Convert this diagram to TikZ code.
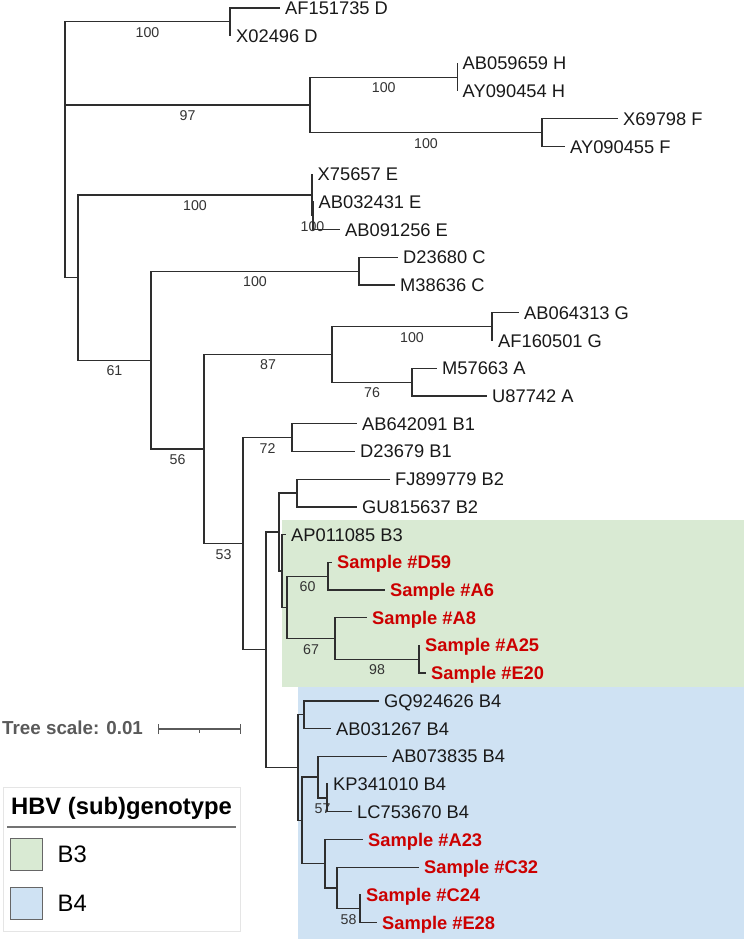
\documentclass[tikz,border=0pt]{standalone}
\usepackage{fontspec}
\setmainfont{Liberation Sans}
\usepackage{tikz}
\usetikzlibrary{arrows.meta,positioning}
\definecolor{bthree}{HTML}{D9EAD3}
\definecolor{bfour}{HTML}{CFE2F3}
\definecolor{smpred}{HTML}{CC0000}
\definecolor{brgray}{HTML}{2E2E2E}
\definecolor{scgray}{HTML}{5A5A5A}

\begin{document}
\begin{tikzpicture}[
  x=1pt,y=-1pt,
  br/.style={draw=brgray,line width=1.3pt},
  lf/.style={anchor=west,inner xsep=5pt,inner ysep=0pt,text height=13.1pt,text depth=0pt,
             font=\fontsize{18.3}{20}\selectfont,text=black!90},
  smp/.style={lf,font=\fontsize{18.3}{20}\selectfont\bfseries,text=smpred},
  bs/.style={pos=0.75,below=5pt,inner sep=0pt,font=\fontsize{14.2}{16}\selectfont,text=black!80},
  sw/.style={draw=black!60,line width=1pt,minimum size=32pt,inner sep=0pt},
  lgtxt/.style={inner sep=0pt,text height=17pt,text depth=0pt,font=\fontsize{23.8}{26}\selectfont}
]
\useasboundingbox (0,0) rectangle (744,939);

% clade shading
\fill[bthree] (282,520) rectangle (744,687);
\fill[bfour] (298,687) rectangle (744,939);

% internal nodes
\coordinate (root) at (65,149.7);
\coordinate (nD) at (230,21.8);
\coordinate (nHF) at (310,104.9);
\coordinate (nH) at (457.5,77.2);
\coordinate (nF) at (542,132.7);
\coordinate (nR) at (78,277.6);
\coordinate (nE) at (312,195);
\coordinate (nE2) at (313,215.8);
\coordinate (n61) at (151,360.2);
\coordinate (nC) at (359,271.3);
\coordinate (n56) at (204,449);
\coordinate (n87) at (332,354.4);
\coordinate (nG) at (492,326.7);
\coordinate (nA) at (412,382.2);
\coordinate (n53) at (243,543.7);
\coordinate (nB1) at (292,437.6);
\coordinate (nX) at (266,649.8);
\coordinate (nB23) at (279,532);
\coordinate (nB2) at (297,493.1);
\coordinate (nB3) at (282,571.1);
\coordinate (nB3b) at (287,607.6);
\coordinate (n60) at (328,576.2);
\coordinate (n67) at (335,638.5);
\coordinate (n98) at (419,659.3);
\coordinate (nB4) at (298,767.6);
\coordinate (nB4a) at (304,714.8);
\coordinate (nB4b) at (302,820.4);
\coordinate (nB4c) at (318,777.1);
\coordinate (n57) at (327,797.9);
\coordinate (nB4d) at (325,863.7);
\coordinate (nC32) at (337,888);
\coordinate (n58) at (360,908.8);

% leaves
\node[lf] (l1) at (280,8) {AF151735 D};
\node[lf] (l2) at (231,35.6) {X02496 D};
\node[lf] (l3) at (457.5,63.3) {AB059659 H};
\node[lf] (l4) at (457.5,91) {AY090454 H};
\node[lf] (l5) at (618,118.8) {X69798 F};
\node[lf] (l6) at (565,146.5) {AY090455 F};
\node[lf] (l7) at (312.5,174.2) {X75657 E};
\node[lf] (l8) at (313.5,201.9) {AB032431 E};
\node[lf] (l9) at (340,229.7) {AB091256 E};
\node[lf] (l10) at (398,257.4) {D23680 C};
\node[lf] (l11) at (395,285.1) {M38636 C};
\node[lf] (l12) at (519,312.8) {AB064313 G};
\node[lf] (l13) at (493,340.5) {AF160501 G};
\node[lf] (l14) at (437,368.3) {M57663 A};
\node[lf] (l15) at (487,396) {U87742 A};
\node[lf] (l16) at (357,423.7) {AB642091 B1};
\node[lf] (l17) at (355,451.4) {D23679 B1};
\node[lf] (l18) at (390,479.2) {FJ899779 B2};
\node[lf] (l19) at (357,506.9) {GU815637 B2};
\node[lf] (l20) at (286,534.6) {AP011085 B3};
\node[smp] (l21) at (332,562.3) {Sample \#D59};
\node[smp] (l22) at (385,590) {Sample \#A6};
\node[smp] (l23) at (367,617.7) {Sample \#A8};
\node[smp] (l24) at (420,645.4) {Sample \#A25};
\node[smp] (l25) at (426,673.1) {Sample \#E20};
\node[lf] (l26) at (379,700.9) {GQ924626 B4};
\node[lf] (l27) at (331,728.6) {AB031267 B4};
\node[lf] (l28) at (387,756.3) {AB073835 B4};
\node[lf] (l29) at (328,784) {KP341010 B4};
\node[lf] (l30) at (352,811.8) {LC753670 B4};
\node[smp] (l31) at (363,839.5) {Sample \#A23};
\node[smp] (l32) at (419,867.2) {Sample \#C32};
\node[smp] (l33) at (361,894.9) {Sample \#C24};
\node[smp] (l34) at (377,922.6) {Sample \#E28};

% branches
\draw[br] (root) |- node[bs] {100} (nD);
\draw[br] (root) |- node[bs] {97} (nHF);
\draw[br] (root) |- (nR);
\draw[br] (nD) |- (l1.west); \draw[br] (nD) |- (l2.west);
\draw[br] (nHF) |- node[bs] {100} (nH);
\draw[br] (nHF) |- node[bs] {100} (nF);
\draw[br] (nH) |- (l3.west); \draw[br] (nH) |- (l4.west);
\draw[br] (nF) |- (l5.west); \draw[br] (nF) |- (l6.west);
\draw[br] (nR) |- node[bs] {100} (nE);
\draw[br] (nE) |- (l7.west);
\draw[br] (nE) |- node[bs] {100} (nE2);
\draw[br] (nE2) |- (l8.west); \draw[br] (nE2) |- (l9.west);
\draw[br] (nR) |- node[bs] {61} (n61);
\draw[br] (n61) |- node[bs] {100} (nC);
\draw[br] (nC) |- (l10.west); \draw[br] (nC) |- (l11.west);
\draw[br] (n61) |- node[bs] {56} (n56);
\draw[br] (n56) |- node[bs] {87} (n87);
\draw[br] (n87) |- node[bs] {100} (nG);
\draw[br] (nG) |- (l12.west); \draw[br] (nG) |- (l13.west);
\draw[br] (n87) |- node[bs] {76} (nA);
\draw[br] (nA) |- (l14.west); \draw[br] (nA) |- (l15.west);
\draw[br] (n56) |- node[bs] {53} (n53);
\draw[br] (n53) |- node[bs] {72} (nB1);
\draw[br] (nB1) |- (l16.west); \draw[br] (nB1) |- (l17.west);
\draw[br] (n53) |- (nX);
\draw[br] (nX) |- (nB23);
\draw[br] (nB23) |- (nB2);
\draw[br] (nB2) |- (l18.west); \draw[br] (nB2) |- (l19.west);
\draw[br] (nB23) |- (nB3);
\draw[br] (nB3) |- (l20.west);
\draw[br] (nB3) |- (nB3b);
\draw[br] (nB3b) |- node[bs] {60} (n60);
\draw[br] (n60) |- (l21.west); \draw[br] (n60) |- (l22.west);
\draw[br] (nB3b) |- node[bs] {67} (n67);
\draw[br] (n67) |- (l23.west);
\draw[br] (n67) |- node[bs] {98} (n98);
\draw[br] (n98) |- (l24.west); \draw[br] (n98) |- (l25.west);
\draw[br] (nX) |- (nB4);
\draw[br] (nB4) |- (nB4a);
\draw[br] (nB4a) |- (l26.west); \draw[br] (nB4a) |- (l27.west);
\draw[br] (nB4) |- (nB4b);
\draw[br] (nB4b) |- (nB4c);
\draw[br] (nB4c) |- (l28.west);
\draw[br] (nB4c) |- node[bs] {57} (n57);
\draw[br] (n57) |- (l29.west); \draw[br] (n57) |- (l30.west);
\draw[br] (nB4b) |- (nB4d);
\draw[br] (nB4d) |- (l31.west);
\draw[br] (nB4d) |- (nC32);
\draw[br] (nC32) |- (l32.west);
\draw[br] (nC32) |- node[bs] {58} (n58);
\draw[br] (n58) |- (l33.west); \draw[br] (n58) |- (l34.west);

% tree scale
\node[anchor=west,inner sep=0pt,text height=13.5pt,text depth=0pt,
      font=\fontsize{18.8}{20}\selectfont\bfseries,text=scgray] (tsc) at (2,728) {Tree scale: 0.01};
\coordinate (sbl) at (158,729);
\coordinate (sbr) at (241,729);
\coordinate (sbm) at (199.5,729);
\draw[scgray,line width=1.3pt,{Bar[width=10pt]}-{Bar[width=10pt]}] (sbl) -- (sbr);
\draw[scgray,line width=1.1pt] (sbm) -- ++(0,3.5);

% legend
\node[draw=black!10,fill=white,line width=0.8pt,minimum width=237pt,minimum height=144pt,
      anchor=north west,inner sep=0pt] (lg) at (3,787) {};
\node[lgtxt,font=\fontsize{23.8}{26}\selectfont\bfseries] (lgt) at (121.5,805.5) {HBV (sub)genotype};
\draw[black!55,line width=1.4pt] (7,827) -- (236,827);
\node[sw,fill=bthree] (swb3) at (26,854) {};
\node[sw,fill=bfour,below=16pt of swb3] (swb4) {};
\node[lgtxt,anchor=west,right=15pt of swb3] (tb3) {B3};
\node[lgtxt,anchor=west,right=15pt of swb4] (tb4) {B4};
\end{tikzpicture}
\end{document}
